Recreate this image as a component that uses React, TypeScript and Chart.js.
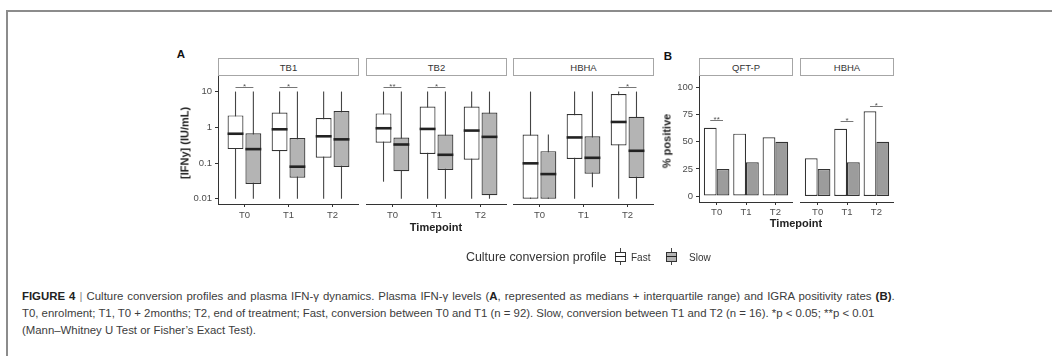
import React, { useEffect, useRef } from 'react';
import { Chart, registerables } from 'chart.js';

Chart.register(...registerables);

// ---- data ----
const timepoints = ['T0', 'T1', 'T2'];
const tickPositions = [1, 2, 3];
const logTicks = [0.01, 0.1, 1, 10];
const pctTicks = [0, 25, 50, 75, 100];

// plasma IFN-γ, [min, q1, median, q3, max] at T0, T1, T2
const tb1Fast = [[0.01, 0.245, 0.66, 2.15, 10], [0.01, 0.215, 0.88, 2.6, 10], [0.01, 0.14, 0.56, 1.82, 10]];
const tb1Slow = [[0.01, 0.026, 0.245, 0.68, 10], [0.01, 0.039, 0.079, 0.5, 10], [0.01, 0.078, 0.46, 2.85, 10]];
const tb2Fast = [[0.03, 0.37, 0.94, 2.45, 10], [0.01, 0.18, 0.9, 3.8, 10], [0.01, 0.124, 0.81, 3.8, 10]];
const tb2Slow = [[0.01, 0.059, 0.33, 0.52, 10], [0.01, 0.064, 0.17, 0.63, 10], [0.01, 0.0126, 0.54, 2.6, 10]];
const hbhaFast = [[0.01, 0.01, 0.098, 0.63, 10], [0.01, 0.13, 0.52, 2.35, 10], [0.01, 0.31, 1.41, 8.5, 10]];
const hbhaSlow = [[0.01, 0.01, 0.049, 0.215, 0.63], [0.021, 0.05, 0.14, 0.56, 10], [0.01, 0.038, 0.22, 1.98, 10]];

// IGRA positivity (%) at T0, T1, T2
const qftFast = [63.0, 57.6, 54.3];
const qftSlow = [25, 31.25, 50];
const hbhaPosFast = [34.8, 62.0, 78.3];
const hbhaPosSlow = [25, 31.25, 50];

// significance marks: timepoint index, label, bracket height
const tb1Sig = [{ i: 0, label: '*', y: 13.8 }, { i: 1, label: '*', y: 13.8 }];
const tb2Sig = [{ i: 0, label: '**', y: 13.2 }, { i: 1, label: '*', y: 13.8 }];
const hbhaSig = [{ i: 2, label: '*', y: 13.8 }];
const qftPosSig = [{ i: 0, label: '**', y: 70 }];
const hbhaPosSig = [{ i: 1, label: '*', y: 69.5 }, { i: 2, label: '*', y: 83.5 }];

const FONT = '"Liberation Sans", Arial, Helvetica, sans-serif';
const INK = '#333333';
const TICK_INK = '#4d4d4d';

type Sig = { i: number; label: string; y: number };

function boxPlugin() {
  return {
    id: 'boxWhiskers',
    beforeDatasetsDraw(chart: any) {
      const ys = chart.scales.y;
      const ctx = chart.ctx;
      chart.data.datasets.forEach((ds: any, di: number) => {
        const meta = chart.getDatasetMeta(di);
        meta.data.forEach((bar: any, i: number) => {
          const s = ds.stats[i];
          ctx.save();
          ctx.strokeStyle = '#444';
          ctx.lineWidth = 1.1;
          ctx.beginPath();
          ctx.moveTo(bar.x, ys.getPixelForValue(s[4]));
          ctx.lineTo(bar.x, ys.getPixelForValue(s[0]));
          ctx.stroke();
          ctx.restore();
        });
      });
    },
    afterDatasetsDraw(chart: any) {
      const ys = chart.scales.y;
      const ctx = chart.ctx;
      chart.data.datasets.forEach((ds: any, di: number) => {
        const meta = chart.getDatasetMeta(di);
        meta.data.forEach((bar: any, i: number) => {
          const s = ds.stats[i];
          const py = ys.getPixelForValue(s[2]);
          ctx.save();
          ctx.strokeStyle = '#222';
          ctx.lineWidth = 2.6;
          ctx.beginPath();
          ctx.moveTo(bar.x - bar.width / 2, py);
          ctx.lineTo(bar.x + bar.width / 2, py);
          ctx.stroke();
          ctx.restore();
        });
      });
    },
  };
}

function sigPlugin(items: Sig[]) {
  return {
    id: 'sigMarks',
    afterDatasetsDraw(chart: any) {
      const ys = chart.scales.y;
      const ctx = chart.ctx;
      const a = chart.getDatasetMeta(0).data;
      const b = chart.getDatasetMeta(1).data;
      items.forEach((it) => {
        const py = Math.round(ys.getPixelForValue(it.y)) + 0.5;
        const x0 = a[it.i].x;
        const x1 = b[it.i].x;
        ctx.save();
        ctx.strokeStyle = '#777';
        ctx.lineWidth = 1;
        ctx.beginPath();
        ctx.moveTo(x0, py);
        ctx.lineTo(x1, py);
        ctx.stroke();
        ctx.fillStyle = '#555';
        ctx.font = `8px ${FONT}`;
        ctx.textAlign = 'center';
        ctx.textBaseline = 'alphabetic';
        ctx.fillText(it.label, (x0 + x1) / 2, py + 1.5);
        ctx.restore();
      });
    },
  };
}

// keep the plot area exactly where the canvas says it is
function zeroPadding(s: any) {
  s.paddingTop = 0;
  s.paddingBottom = 0;
  s.paddingLeft = 0;
  s.paddingRight = 0;
}

function xScale(axisHeight: number, pad: number) {
  return {
    type: 'linear',
    min: 0.4,
    max: 3.6,
    offset: false,
    bounds: 'data',
    afterBuildTicks: (s: any) => {
      s.ticks = tickPositions.map((v) => ({ value: v }));
    },
    afterFit: (s: any) => {
      s.height = axisHeight;
      zeroPadding(s);
    },
    ticks: {
      autoSkip: false,
      maxRotation: 0,
      padding: pad,
      color: TICK_INK,
      font: { family: FONT, size: 9.5 },
      callback: (v: number) => timepoints[tickPositions.indexOf(v)] ?? '',
    },
    grid: { drawOnChartArea: false, drawTicks: true, tickLength: 3, color: INK, lineWidth: 1, offset: false },
    border: { display: true, color: INK, width: 1 },
  };
}

function yCommon(showY: boolean, axisWidth: number, ticks: number[]) {
  return {
    display: showY,
    bounds: 'data',
    offset: false,
    afterBuildTicks: (s: any) => {
      s.ticks = ticks.map((v) => ({ value: v }));
    },
    afterFit: (s: any) => {
      s.width = axisWidth;
      zeroPadding(s);
    },
    ticks: {
      autoSkip: false,
      padding: 3,
      color: TICK_INK,
      font: { family: FONT, size: 9.5 },
      callback: (v: number) => String(v),
    },
    grid: { drawOnChartArea: false, drawTicks: true, tickLength: 3, color: INK, lineWidth: 1 },
    border: { display: true, color: INK, width: 1 },
  };
}

function boxConfig(fast: number[][], slow: number[][], sig: Sig[], showY: boolean, axisWidth: number) {
  const ds = (label: string, stats: number[][], fill: string) => ({
    label,
    stats,
    data: stats.map((s, i) => ({ x: tickPositions[i], y: [s[1], s[3]] })),
    backgroundColor: fill,
    borderColor: INK,
    borderWidth: 1.2,
    borderSkipped: false,
    categoryPercentage: 0.81,
    barPercentage: 0.89,
  });
  return {
    type: 'bar',
    data: { datasets: [ds('Fast', fast, '#ffffff'), ds('Slow', slow, '#b4b4b4')] },
    options: {
      animation: false,
      responsive: false,
      maintainAspectRatio: false,
      layout: { padding: 0 },
      plugins: { legend: { display: false }, tooltip: { enabled: false } },
      scales: {
        x: xScale(24, 3),
        y: { type: 'logarithmic', min: Math.pow(10, -2.147), max: Math.pow(10, 1.436), ...yCommon(showY, axisWidth, logTicks) },
      },
    },
    plugins: [boxPlugin(), sigPlugin(sig)],
  };
}

function barConfig(fast: number[], slow: number[], sig: Sig[], showY: boolean, axisWidth: number) {
  const ds = (label: string, vals: number[], fill: string) => ({
    label,
    data: vals.map((v, i) => ({ x: tickPositions[i], y: v })),
    backgroundColor: fill,
    borderColor: INK,
    borderWidth: 1.2,
    borderSkipped: false,
    categoryPercentage: 0.87,
    barPercentage: 1,
  });
  return {
    type: 'bar',
    data: { datasets: [ds('Fast', fast, '#ffffff'), ds('Slow', slow, '#9c9c9c')] },
    options: {
      animation: false,
      responsive: false,
      maintainAspectRatio: false,
      layout: { padding: 0 },
      plugins: { legend: { display: false }, tooltip: { enabled: false } },
      scales: {
        x: xScale(22, 2),
        y: { type: 'linear', min: -5.5, max: 110.8, ...yCommon(showY, axisWidth, pctTicks) },
      },
    },
    plugins: [sigPlugin(sig)],
  };
}

function Facet({ left, top, width, height, axisWidth, build }: any) {
  const ref = useRef<HTMLCanvasElement>(null);
  useEffect(() => {
    const chart = new Chart(ref.current as HTMLCanvasElement, build());
    return () => chart.destroy();
  }, []);
  const w = width + axisWidth;
  return (
    <canvas
      ref={ref}
      width={w}
      height={height}
      style={{ position: 'absolute', left: left - axisWidth, top, width: w, height }}
    />
  );
}

function Strip({ left, width, label }: { left: number; width: number; label: string }) {
  return (
    <div
      style={{
        position: 'absolute',
        left,
        top: 58,
        width,
        height: 18,
        boxSizing: 'border-box',
        border: '1px solid #a6a6a6',
        background: '#fff',
        color: INK,
        font: `9.5px ${FONT}`,
        display: 'flex',
        alignItems: 'center',
        justifyContent: 'center',
      }}
    >
      {label}
    </div>
  );
}

function Label({ x, y, text, size, bold, rotate, color }: any) {
  return (
    <div
      style={{
        position: 'absolute',
        left: x,
        top: y,
        transform: `translate(-50%, -50%)${rotate ? ' rotate(-90deg)' : ''}`,
        whiteSpace: 'nowrap',
        lineHeight: 1,
        fontFamily: FONT,
        fontSize: size,
        fontWeight: bold ? 'bold' : 'normal',
        color: color || '#222',
      }}
    >
      {text}
    </div>
  );
}

function LegendKey({ left, fill }: { left: number; fill: string }) {
  return (
    <div style={{ position: 'absolute', left, top: 248, width: 11, height: 17 }}>
      <div style={{ position: 'absolute', left: 5, top: 0, width: 1, height: 17, background: '#444' }} />
      <div
        style={{
          position: 'absolute',
          left: 0,
          top: 3.5,
          width: 11,
          height: 10,
          boxSizing: 'border-box',
          border: `1px solid ${INK}`,
          background: fill,
        }}
      />
      <div style={{ position: 'absolute', left: 0, top: 7.8, width: 11, height: 1.5, background: '#222' }} />
    </div>
  );
}

const captionStyle: React.CSSProperties = {
  position: 'absolute',
  left: 22,
  whiteSpace: 'nowrap',
  fontFamily: FONT,
  fontSize: 11.4,
  lineHeight: '17px',
  color: '#3c3c3c',
};

export default function App() {
  useEffect(() => {
    document.body.style.margin = '0';
  }, []);

  return (
    <div style={{ position: 'absolute', left: 0, top: 0, width: 1052, height: 356, overflow: 'hidden', background: '#fff' }}>
      {/* figure frame */}
      <div style={{ position: 'absolute', left: 6, top: 10, right: 0, height: 2, background: '#8c8c8c' }} />
      <div style={{ position: 'absolute', left: 6, top: 10, bottom: 0, width: 2, background: '#8c8c8c' }} />

      {/* panel A: IFN-γ boxplots */}
      <Label x={181} y={55} text="A" size={11.5} bold color="#111" />
      <Strip left={218} width={141} label="TB1" />
      <Strip left={366} width={141} label="TB2" />
      <Strip left={513} width={141} label="HBHA" />
      <Facet left={218} top={76} width={141} height={152} axisWidth={45} build={() => boxConfig(tb1Fast, tb1Slow, tb1Sig, true, 45)} />
      <Facet left={366} top={76} width={141} height={152} axisWidth={0} build={() => boxConfig(tb2Fast, tb2Slow, tb2Sig, false, 0)} />
      <Facet left={513} top={76} width={141} height={152} axisWidth={0} build={() => boxConfig(hbhaFast, hbhaSlow, hbhaSig, false, 0)} />
      <Label x={185} y={143} text="[IFNy] (IU/mL)" size={11} bold rotate />
      <Label x={436} y={227} text="Timepoint" size={11} bold />

      {/* panel B: IGRA positivity */}
      <Label x={668} y={57} text="B" size={11.5} bold color="#111" />
      <Strip left={699} width={94} label="QFT-P" />
      <Strip left={800} width={94} label="HBHA" />
      <Facet left={699} top={76} width={94} height={148} axisWidth={40} build={() => barConfig(qftFast, qftSlow, qftPosSig, true, 40)} />
      <Facet left={800} top={76} width={94} height={148} axisWidth={0} build={() => barConfig(hbhaPosFast, hbhaPosSlow, hbhaPosSig, false, 0)} />
      <Label x={667} y={141} text="% positive" size={11} bold rotate />
      <Label x={796} y={223} text="Timepoint" size={11} bold />

      {/* legend */}
      <div style={{ position: 'absolute', left: 466, top: 250, font: `12.4px ${FONT}`, color: INK, whiteSpace: 'nowrap', lineHeight: '15px' }}>
        Culture conversion profile
      </div>
      <LegendKey left={615} fill="#ffffff" />
      <div style={{ position: 'absolute', left: 631, top: 251.5, font: `10px ${FONT}`, color: INK, lineHeight: '11px' }}>Fast</div>
      <LegendKey left={666} fill="#b4b4b4" />
      <div style={{ position: 'absolute', left: 689, top: 251.5, font: `10px ${FONT}`, color: INK, lineHeight: '11px' }}>Slow</div>

      {/* caption */}
      <div style={{ ...captionStyle, top: 287.5, wordSpacing: 0.9 }}>
        <b style={{ color: '#222' }}>FIGURE 4</b> <span style={{ color: '#888' }}>|</span> Culture conversion profiles and plasma IFN-γ dynamics. Plasma IFN-γ levels (<b style={{ color: '#222' }}>A</b>, represented as medians + interquartile range) and IGRA positivity rates <b style={{ color: '#222' }}>(B)</b>.
      </div>
      <div style={{ ...captionStyle, top: 304.8 }}>
        T0, enrolment; T1, T0 + 2months; T2, end of treatment; Fast, conversion between T0 and T1 (n = 92). Slow, conversion between T1 and T2 (n = 16). *p &lt; 0.05; **p &lt; 0.01
      </div>
      <div style={{ ...captionStyle, top: 321.5 }}>(Mann–Whitney U Test or Fisher’s Exact Test).</div>
    </div>
  );
}
